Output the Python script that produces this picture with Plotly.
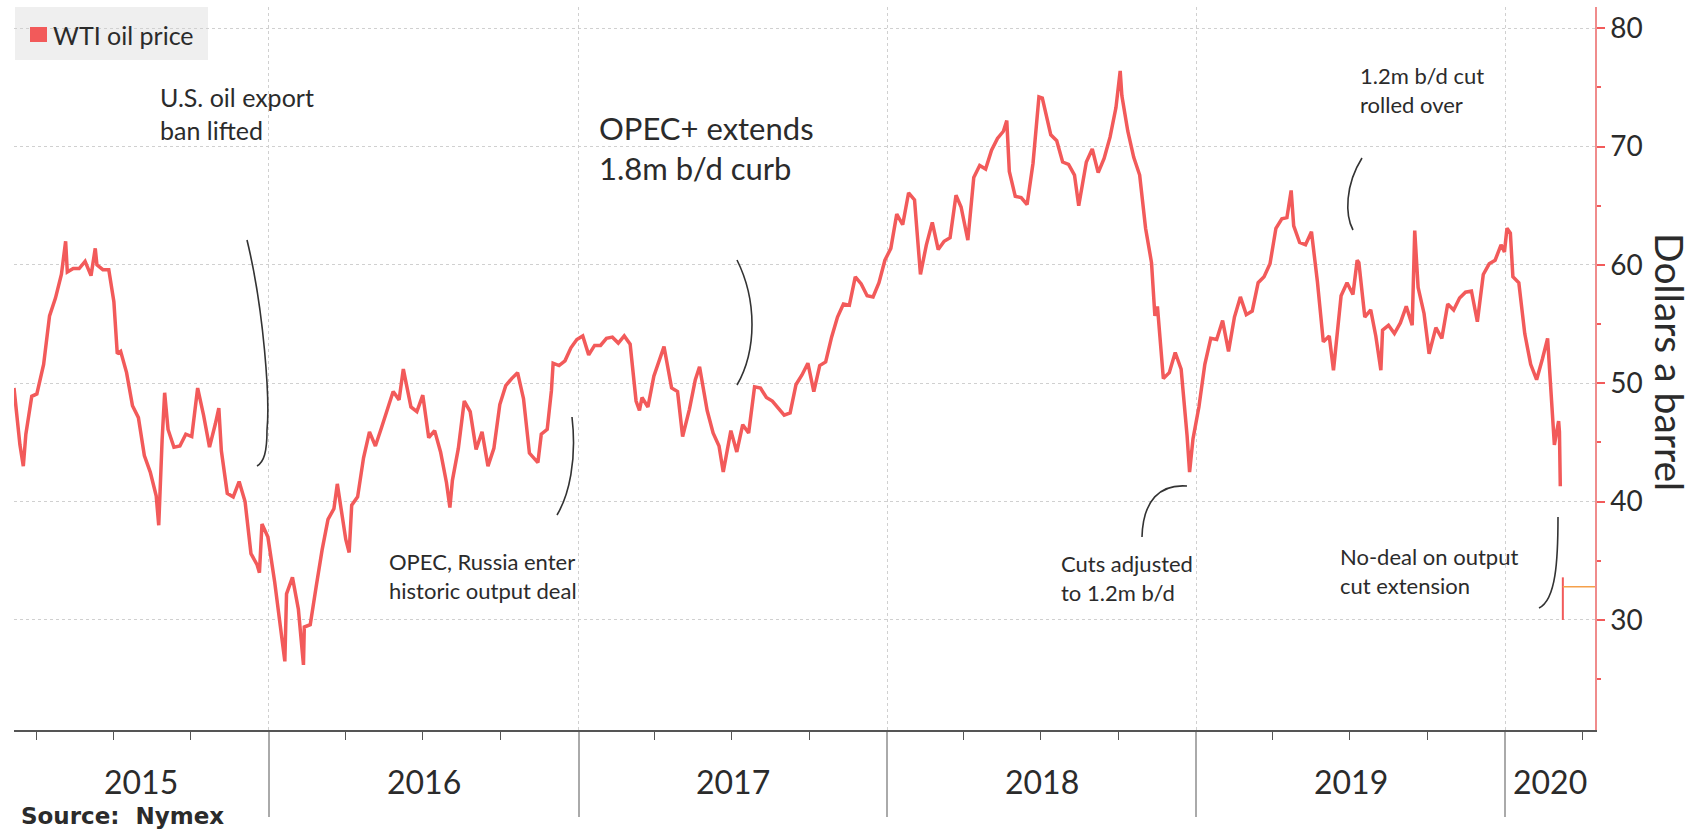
import plotly.graph_objects as go
import pandas as pd

# ---------------- data ----------------
dates = [
 "2015-03-06","2015-03-13","2015-03-17","2015-03-20","2015-03-27","2015-04-02","2015-04-10","2015-04-17","2015-04-24",
 "2015-05-01","2015-05-06","2015-05-08","2015-05-15","2015-05-22","2015-05-29","2015-06-05","2015-06-10","2015-06-12","2015-06-19",
 "2015-06-26","2015-07-02","2015-07-06","2015-07-10","2015-07-17","2015-07-24","2015-07-31","2015-08-07","2015-08-14",
 "2015-08-21","2015-08-24","2015-08-28","2015-08-31","2015-09-04","2015-09-11","2015-09-18","2015-09-25","2015-10-02",
 "2015-10-09","2015-10-16","2015-10-23","2015-10-30","2015-11-03","2015-11-06","2015-11-13","2015-11-20","2015-11-27","2015-12-04",
 "2015-12-11","2015-12-18","2015-12-21","2015-12-24","2015-12-31",
 "2016-01-08","2016-01-15","2016-01-20","2016-01-22","2016-01-29","2016-02-05","2016-02-11","2016-02-12","2016-02-19",
 "2016-02-26","2016-03-04","2016-03-11","2016-03-18","2016-03-22","2016-04-01","2016-04-05","2016-04-08","2016-04-15",
 "2016-04-22","2016-04-29","2016-05-06","2016-05-13","2016-05-20","2016-05-27","2016-06-03","2016-06-08","2016-06-17",
 "2016-06-24","2016-07-01","2016-07-08","2016-07-15","2016-07-22","2016-07-29","2016-08-02","2016-08-05","2016-08-12",
 "2016-08-19","2016-08-26","2016-09-02","2016-09-09","2016-09-16","2016-09-23","2016-09-30","2016-10-07","2016-10-14",
 "2016-10-21","2016-10-28","2016-11-04","2016-11-14","2016-11-18","2016-11-25","2016-11-30","2016-12-02","2016-12-09",
 "2016-12-16","2016-12-23","2016-12-30",
 "2017-01-06","2017-01-13","2017-01-20","2017-01-27","2017-02-03","2017-02-10","2017-02-17","2017-02-24","2017-03-03",
 "2017-03-10","2017-03-14","2017-03-17","2017-03-24","2017-03-31","2017-04-07","2017-04-12","2017-04-21","2017-04-28",
 "2017-05-04","2017-05-12","2017-05-19","2017-05-24","2017-06-02","2017-06-09","2017-06-16","2017-06-21","2017-06-30",
 "2017-07-07","2017-07-14","2017-07-21","2017-07-28","2017-08-04","2017-08-11","2017-08-18","2017-08-25","2017-09-01",
 "2017-09-08","2017-09-15","2017-09-22","2017-09-29","2017-10-06","2017-10-13","2017-10-20","2017-10-27","2017-11-03",
 "2017-11-10","2017-11-17","2017-11-24","2017-12-01","2017-12-08","2017-12-15","2017-12-22","2017-12-29",
 "2018-01-05","2018-01-12","2018-01-19","2018-01-26","2018-02-02","2018-02-09","2018-02-16","2018-02-23","2018-03-02",
 "2018-03-09","2018-03-16","2018-03-23","2018-03-29","2018-04-06","2018-04-13","2018-04-20","2018-04-27","2018-05-04",
 "2018-05-11","2018-05-18","2018-05-22","2018-05-25","2018-06-01","2018-06-08","2018-06-15","2018-06-22","2018-06-29",
 "2018-07-03","2018-07-13","2018-07-20","2018-07-27","2018-08-03","2018-08-10","2018-08-15","2018-08-24","2018-08-31",
 "2018-09-07","2018-09-14","2018-09-21","2018-09-28","2018-10-03","2018-10-05","2018-10-12","2018-10-19","2018-10-26",
 "2018-11-02","2018-11-09","2018-11-13","2018-11-16","2018-11-23","2018-11-30","2018-12-07","2018-12-14","2018-12-21",
 "2018-12-24","2018-12-28",
 "2019-01-04","2019-01-11","2019-01-18","2019-01-25","2019-02-01","2019-02-08","2019-02-15","2019-02-22","2019-03-01",
 "2019-03-08","2019-03-15","2019-03-22","2019-03-29","2019-04-05","2019-04-12","2019-04-18","2019-04-23","2019-04-26",
 "2019-05-03","2019-05-10","2019-05-17","2019-05-24","2019-05-31","2019-06-07","2019-06-12","2019-06-14","2019-06-21",
 "2019-06-28","2019-07-05","2019-07-10","2019-07-12","2019-07-19","2019-07-26","2019-08-01","2019-08-07","2019-08-09",
 "2019-08-16","2019-08-23","2019-08-30","2019-09-06","2019-09-13","2019-09-16","2019-09-20","2019-09-27","2019-10-03",
 "2019-10-11","2019-10-18","2019-10-25","2019-11-01","2019-11-08","2019-11-15","2019-11-22","2019-11-29","2019-12-06",
 "2019-12-13","2019-12-20","2019-12-27","2019-12-31",
 "2020-01-03","2020-01-07","2020-01-10","2020-01-17","2020-01-24","2020-01-31","2020-02-07","2020-02-14","2020-02-20",
 "2020-02-28","2020-03-04","2020-03-05","2020-03-06",
]
prices = [
 49.6,44.8,43.0,45.7,48.9,49.1,51.6,55.7,57.2,
 59.2,62.0,59.4,59.7,59.7,60.3,59.1,61.4,60.0,59.6,
 59.6,56.9,52.5,52.7,50.9,48.1,47.1,43.9,42.5,
 40.5,38.0,45.2,49.2,46.1,44.6,44.7,45.7,45.5,
 49.6,47.3,44.6,46.6,47.9,44.3,40.7,40.4,41.7,40.0,
 35.6,34.7,34.0,38.1,37.0,
 33.2,29.4,26.5,32.2,33.6,30.9,26.2,29.4,29.6,
 32.8,35.9,38.5,39.4,41.5,36.8,35.7,39.7,40.4,
 43.7,45.9,44.7,46.2,47.8,49.3,48.6,51.2,48.0,
 47.6,49.0,45.4,46.0,44.2,41.6,39.5,41.8,44.5,
 48.5,47.6,44.4,45.9,43.0,44.5,48.2,49.8,50.4,
 50.9,48.7,44.1,43.3,45.7,46.1,49.4,51.7,51.5,
 51.9,53.0,53.7,
 54.0,52.4,53.2,53.2,53.8,53.9,53.4,54.0,53.3,
 48.5,47.7,48.8,48.0,50.6,52.2,53.1,49.6,49.3,
 45.5,47.8,50.3,51.4,47.7,45.8,44.7,42.5,46.0,
 44.2,46.5,45.8,49.7,49.6,48.8,48.5,47.9,47.3,
 47.5,49.9,50.7,51.7,49.3,51.5,51.8,53.9,55.6,
 56.7,56.6,59.0,58.4,57.4,57.3,58.5,60.4,
 61.4,64.3,63.4,66.1,65.5,59.2,61.7,63.6,61.3,
 62.0,62.3,65.9,64.9,62.1,67.4,68.4,68.1,69.7,
 70.7,71.3,72.2,67.9,65.8,65.7,65.1,68.6,74.2,
 74.1,71.0,70.5,68.7,68.5,67.6,65.0,68.7,69.8,
 67.8,69.0,70.8,73.3,76.4,74.3,71.3,69.1,67.6,
 63.1,60.2,55.7,56.5,50.4,50.9,52.6,51.2,45.6,
 42.5,45.3,
 48.0,51.6,53.8,53.7,55.3,52.7,55.6,57.3,55.8,
 56.1,58.5,59.0,60.1,63.1,63.9,64.0,66.3,63.3,
 61.9,61.7,62.8,58.6,53.5,54.0,51.1,52.5,57.4,
 58.5,57.5,60.4,60.2,55.6,56.2,54.0,51.1,54.5,
 54.9,54.2,55.1,56.5,54.9,62.9,58.1,55.9,52.5,
 54.7,53.8,56.7,56.2,57.2,57.7,57.8,55.2,59.2,
 60.1,60.4,61.7,61.1,
 63.1,62.7,59.0,58.5,54.2,51.6,50.3,52.1,53.8,
 44.8,46.8,45.9,41.3,
]
# latest (partial) session shown at the right edge
last_dates = ["2020-03-09", "2020-03-09"]
last_range = [30.0, 33.6]
last_price = 32.8

series_name = "WTI oil price"
year_labels = ["2015", "2016", "2017", "2018", "2019", "2020"]
y_ticks = [30, 40, 50, 60, 70, 80]

x_range = ["2015-03-06", "2020-04-16"]
y_range = [20.7, 81.8]

RED = "#f25a5a"
TXT = "#2b2b2b"
FONT = "Lato"

W, H = 1695, 830
L, R, T, B = 14, 100, 7, 100
PW, PH = W - L - R, H - T - B


def px(x):
    return (x - L) / PW


def py(y):
    return (H - B - y) / PH


fig = go.Figure()
fig.add_trace(go.Scatter(x=pd.to_datetime(dates), y=prices, mode="lines",
                         line=dict(color=RED, width=3.5), name=series_name,
                         showlegend=False, hoverinfo="x+y"))
fig.add_trace(go.Scatter(x=pd.to_datetime(last_dates), y=last_range, mode="lines",
                         line=dict(color=RED, width=2), showlegend=False, hoverinfo="skip"))

shapes = []
# last price marker line to the axis
shapes.append(dict(type="line", xref="x", yref="y", x0=last_dates[0], x1=x_range[1],
                   y0=last_price, y1=last_price, line=dict(color="#f5a04a", width=1.5)))

# legend box
shapes.append(dict(type="rect", xref="paper", yref="paper", x0=px(15), x1=px(208),
                   y0=py(60), y1=py(7), fillcolor="#efefef", line=dict(width=0), layer="below"))
shapes.append(dict(type="rect", xref="paper", yref="paper", x0=px(30), x1=px(47),
                   y0=py(42), y1=py(27), fillcolor=RED, line=dict(width=0)))


def curve(points):
    (x0, y0), (x1, y1), (x2, y2), (x3, y3) = points
    return (f"M {px(x0)},{py(y0)} C {px(x1)},{py(y1)} {px(x2)},{py(y2)} {px(x3)},{py(y3)}")


connectors = [
    [(247, 240), (264, 310), (270, 400), (267, 430)],
    [(267, 430), (267, 452), (264, 462), (257, 466)],
    [(737, 260), (757, 300), (757, 350), (737, 385)],
    [(572, 417), (577, 460), (569, 495), (557, 515)],
    [(1187, 486), (1160, 484), (1143, 500), (1142, 537)],
    [(1362, 158), (1345, 185), (1345, 215), (1353, 230)],
    [(1558, 517), (1558, 560), (1556, 600), (1539, 608)],
]
for c in connectors:
    shapes.append(dict(type="path", xref="paper", yref="paper", path=curve(c),
                       line=dict(color="#333333", width=1.6)))

annotations = []


def note(text, x, y, size=22, **kw):
    annotations.append(dict(text=text, xref="paper", yref="paper", x=px(x), y=py(y),
                            xanchor=kw.get("xanchor", "left"), yanchor="middle",
                            showarrow=False, align="left",
                            font=dict(family=kw.get("family", FONT), size=size,
                                      color=kw.get("color", TXT)),
                            textangle=kw.get("textangle", 0)))


note(series_name, 51, 35, size=25)
note("U.S. oil export<br>ban lifted", 158, 113, size=25)
note("OPEC+ extends<br>1.8m b/d curb", 597, 148, size=31)
note("OPEC, Russia enter<br>historic output deal", 387, 576)
note("Cuts adjusted<br>to 1.2m b/d", 1059, 578)
note("1.2m b/d cut<br>rolled over", 1358, 90)
note("No-deal on output<br>cut extension", 1338, 571)
note("<b>Source:  Nymex</b>", 19, 816, size=23, family="DejaVu Sans")
note("Dollars a barrel", 1670, 362, size=39, xanchor="center", textangle=90)

# year labels centred in the visible part of each year
lo, hi = pd.Timestamp(x_range[0]), pd.Timestamp(x_range[1])
for yl in year_labels:
    a = max(pd.Timestamp(f"{yl}-01-01"), lo)
    b = min(pd.Timestamp(f"{int(yl)+1}-01-01"), hi)
    mid = a + (b - a) / 2
    annotations.append(dict(text=yl, xref="x", yref="paper", x=mid, y=py(781),
                            xanchor="center", yanchor="middle", showarrow=False,
                            font=dict(family=FONT, size=32, color=TXT)))

year_starts = [f"{int(y)}-01-01" for y in year_labels[1:]]

fig.update_layout(
    width=W, height=H,
    margin=dict(l=L, r=R, t=T, b=B),
    paper_bgcolor="white", plot_bgcolor="white",
    shapes=shapes, annotations=annotations,
    showlegend=False,
    xaxis=dict(type="date", range=x_range, tickvals=year_starts, showticklabels=False,
               ticks="outside", ticklen=85, tickwidth=1.5, tickcolor="#aaaaaa",
               showgrid=True, gridcolor="#d0d0d0", griddash="dot", gridwidth=1,
               showline=True, linecolor="#555555", linewidth=1.5, zeroline=False,
               minor=dict(dtick="M3", tick0="2015-01-01", ticks="outside", ticklen=8,
                          tickcolor="#555555", tickwidth=1.2, showgrid=False)),
    yaxis=dict(side="right", range=y_range, tickvals=y_ticks, ticks="outside", ticklen=8,
               tickcolor=RED, tickwidth=1.5, showline=True, linecolor="#f08c8c", linewidth=1.5,
               showgrid=True, gridcolor="#d0d0d0", griddash="dot", gridwidth=1, zeroline=False,
               tickfont=dict(family=FONT, size=28, color=TXT),
               minor=dict(dtick=5, tick0=0, ticks="outside", ticklen=4, tickcolor=RED,
                          showgrid=False)),
)

fig.write_html("out.html")
